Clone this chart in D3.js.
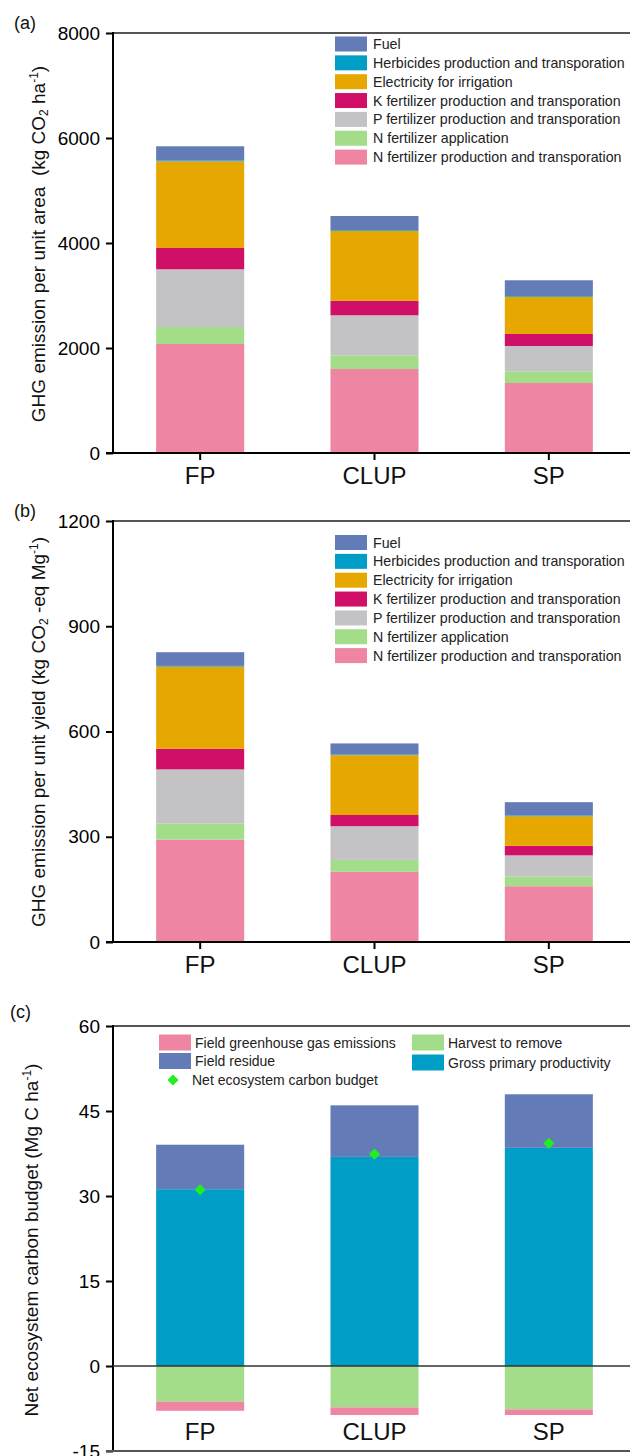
<!DOCTYPE html>
<html>
<head>
<meta charset="utf-8">
<script src="https://cdn.jsdelivr.net/npm/d3@7"></script>
<style>
  body { margin: 0; background: #fff; }
  svg { display: block; font-family: "Liberation Sans", Arial, sans-serif; }
  text { white-space: pre; }
</style>
</head>
<body>
<svg id="chart" width="630" height="1456"></svg>
<script>
// ---- data ----
const categories = ["FP", "CLUP", "SP"];

// stacking order bottom -> top
const emissionKeys = [
  "N fertilizer production and transporation",
  "N fertilizer application",
  "P fertilizer production and transporation",
  "K fertilizer production and transporation",
  "Electricity for irrigation",
  "Herbicides production and transporation",
  "Fuel"
];
const emissionColors = ["#ee85a3", "#a3dd8a", "#c3c3c5", "#cf0f68", "#e6a700", "#009ec6", "#637bb6"];

// (a) kg CO2 ha-1
const areaNProd = [2076, 1600, 1333];
const areaNApp  = [324, 261, 223];
const areaP     = [1099, 762, 482];
const areaK     = [406, 278, 229];
const areaElec  = [1650, 1332, 709];
const areaHerb  = [13, 15, 15];
const areaFuel  = [274, 266, 299];

// (b) kg CO2-eq Mg-1
const yieldNProd = [292, 200, 159];
const yieldNApp  = [46, 34, 28];
const yieldP     = [154, 96, 60];
const yieldK     = [59, 32, 27];
const yieldElec  = [234, 170.5, 84.5];
const yieldHerb  = [2, 2, 2];
const yieldFuel  = [39, 31.5, 38];

// (c) Mg C ha-1
const carbonKeys = ["Gross primary productivity", "Field residue", "Harvest to remove", "Field greenhouse gas emissions"];
const carbonColors = ["#009ec6", "#637bb6", "#a3dd8a", "#ee85a3"];
const gpp       = [31.2, 36.9, 38.5];
const residue   = [7.85, 9.1, 9.45];
const harvest   = [-6.3, -7.3, -7.65];
const fieldGhg  = [-1.6, -1.35, -1.0];
const necb      = [31.1, 37.4, 39.3];

const areaTicks = [0, 2000, 4000, 6000, 8000];
const yieldTicks = [0, 300, 600, 900, 1200];
const carbonTicks = [-15, 0, 15, 30, 45, 60];

// ---- helpers ----
const svg = d3.select("#chart");
const plotLeft = 113, plotRight = 630;
const tickFmt = d => String(d); // plain "8000", "-15"

const x = d3.scaleBand()
  .domain(categories)
  .range([plotLeft, 636])
  .paddingInner(0.495)
  .paddingOuter(0.2475);

function rows(series) {
  return categories.map((c, i) => {
    const r = { cat: c };
    series.forEach((s, k) => r[k] = s[i]);
    return r;
  });
}

function drawFrame(g, y, ticks, top, bottom) {
  // top border
  g.append("line")
    .attr("x1", plotLeft).attr("x2", plotRight)
    .attr("y1", top).attr("y2", top)
    .attr("stroke", "#555").attr("stroke-width", 2);

  const yAxis = g.append("g")
    .attr("transform", `translate(${plotLeft},0)`)
    .call(d3.axisLeft(y).tickValues(ticks).tickFormat(tickFmt).tickSize(7).tickPadding(6));
  yAxis.select(".domain").remove();
  yAxis.selectAll(".tick line").attr("stroke", "#000").attr("stroke-width", 2);
  yAxis.selectAll(".tick text").attr("font-size", 19).attr("fill", "#000")
    .attr("font-family", "Liberation Sans, Arial, sans-serif");

  g.append("line")
    .attr("x1", plotLeft).attr("x2", plotLeft)
    .attr("y1", top - 1).attr("y2", bottom + 1)
    .attr("stroke", "#000").attr("stroke-width", 2);
}

function yLabel(g, parts, cx, cy) {
  const t = g.append("text")
    .attr("transform", `translate(${cx},${cy}) rotate(-90)`)
    .attr("text-anchor", "middle")
    .attr("font-size", 19)
    .attr("fill", "#111");
  parts.forEach(p => {
    const ts = t.append("tspan").text(p.t);
    if (p.sub) ts.attr("font-size", 12).attr("baseline-shift", "-25%");
    if (p.sup) ts.attr("font-size", 12).attr("baseline-shift", "60%");
  });
}

function drawEmissionPanel(cfg) {
  const g = svg.append("g");
  const y = d3.scaleLinear().domain(cfg.domain).range([cfg.bottom, cfg.top]);
  const data = rows(cfg.series);
  const stack = d3.stack().keys(d3.range(emissionKeys.length))(data);

  g.selectAll("g.layer")
    .data(stack)
    .join("g")
    .attr("class", "layer")
    .attr("fill", (d, i) => emissionColors[i])
    .selectAll("rect")
    .data(d => d)
    .join("rect")
    .attr("x", d => x(d.data.cat))
    .attr("width", x.bandwidth())
    .attr("y", d => y(d[1]))
    .attr("height", d => y(d[0]) - y(d[1]));

  drawFrame(g, y, cfg.ticks, cfg.top, cfg.bottom);

  const xAxis = g.append("g")
    .attr("transform", `translate(0,${cfg.bottom})`)
    .call(d3.axisBottom(x).tickSize(7).tickPadding(7));
  xAxis.select(".domain").remove();
  xAxis.selectAll(".tick line").attr("stroke", "#000").attr("stroke-width", 2);
  xAxis.selectAll(".tick text").attr("font-size", 24).attr("fill", "#111")
    .attr("font-family", "Liberation Sans, Arial, sans-serif");
  g.append("line")
    .attr("x1", plotLeft - 7).attr("x2", plotRight)
    .attr("y1", cfg.bottom).attr("y2", cfg.bottom)
    .attr("stroke", "#000").attr("stroke-width", 2);

  // legend (top of stack first)
  const legend = g.append("g");
  const items = emissionKeys.map((k, i) => ({ k, c: emissionColors[i] })).reverse();
  const li = legend.selectAll("g").data(items).join("g")
    .attr("transform", (d, i) => `translate(335,${cfg.legendY + i * 18.85})`);
  li.append("rect").attr("x", 0).attr("y", -7.5).attr("width", 32).attr("height", 15)
    .attr("fill", d => d.c);
  li.append("text").attr("x", 38).attr("y", 5).attr("font-size", 14.2).attr("fill", "#222")
    .text(d => d.k);

  g.append("text").attr("x", 14).attr("y", cfg.top - 4).attr("font-size", 18).attr("fill", "#111")
    .text(cfg.tag);
  yLabel(g, cfg.label, 45, cfg.labelY);
}

drawEmissionPanel({
  tag: "(a)", top: 33, bottom: 453, domain: [0, 8000], ticks: areaTicks,
  series: [areaNProd, areaNApp, areaP, areaK, areaElec, areaHerb, areaFuel],
  legendY: 44, labelY: 244,
  label: [{ t: "GHG emission per unit area  (kg CO" }, { t: "2", sub: true }, { t: " ha" }, { t: "-1", sup: true }, { t: ")" }]
});

drawEmissionPanel({
  tag: "(b)", top: 521, bottom: 942, domain: [0, 1200], ticks: yieldTicks,
  series: [yieldNProd, yieldNApp, yieldP, yieldK, yieldElec, yieldHerb, yieldFuel],
  legendY: 542.5, labelY: 732,
  label: [{ t: "GHG emission per unit yield (kg CO" }, { t: "2", sub: true }, { t: " -eq Mg" }, { t: "-1", sup: true }, { t: ")" }]
});

// ---- panel (c) ----
(function () {
  const top = 1026, bottom = 1451;
  const g = svg.append("g");
  const y = d3.scaleLinear().domain([-15, 60]).range([bottom, top]);
  const data = rows([gpp, residue, harvest, fieldGhg]);
  const stack = d3.stack().keys(d3.range(carbonKeys.length)).offset(d3.stackOffsetDiverging)(data);

  g.selectAll("g.layer")
    .data(stack)
    .join("g")
    .attr("class", "layer")
    .attr("fill", (d, i) => carbonColors[i])
    .selectAll("rect")
    .data(d => d)
    .join("rect")
    .attr("x", d => x(d.data.cat))
    .attr("width", x.bandwidth())
    .attr("y", d => y(Math.max(d[0], d[1])))
    .attr("height", d => Math.abs(y(d[0]) - y(d[1])));

  drawFrame(g, y, carbonTicks, top, bottom);

  // zero line and bottom border
  g.append("line")
    .attr("x1", plotLeft).attr("x2", plotRight)
    .attr("y1", y(0)).attr("y2", y(0))
    .attr("stroke", "#333").attr("stroke-width", 1.5);
  g.append("line")
    .attr("x1", plotLeft - 7).attr("x2", plotRight)
    .attr("y1", bottom).attr("y2", bottom)
    .attr("stroke", "#555").attr("stroke-width", 2);

  const diamond = d3.symbol().type(d3.symbolSquare).size(62);
  g.selectAll("path.necb")
    .data(categories.map((c, i) => ({ c, v: necb[i] })))
    .join("path")
    .attr("class", "necb")
    .attr("d", diamond)
    .attr("transform", d => `translate(${x(d.c) + x.bandwidth() / 2},${y(d.v)}) rotate(45)`)
    .attr("fill", "#22ee22");

  g.selectAll("text.cat")
    .data(categories)
    .join("text")
    .attr("class", "cat")
    .attr("x", d => x(d) + x.bandwidth() / 2)
    .attr("y", 1440)
    .attr("text-anchor", "middle")
    .attr("font-size", 24)
    .attr("fill", "#111")
    .text(d => d);

  // legend
  const legendItems = [
    { k: carbonKeys[3], c: carbonColors[3], x: 159, y: 1042.5 },
    { k: carbonKeys[1], c: carbonColors[1], x: 159, y: 1061 },
    { k: carbonKeys[2], c: carbonColors[2], x: 412, y: 1042.5 },
    { k: carbonKeys[0], c: carbonColors[0], x: 412, y: 1062.5 }
  ];
  const li = g.selectAll("g.leg").data(legendItems).join("g")
    .attr("class", "leg")
    .attr("transform", d => `translate(${d.x},${d.y})`);
  li.append("rect").attr("x", 0).attr("y", -8).attr("width", 32).attr("height", 16)
    .attr("fill", d => d.c);
  li.append("text").attr("x", 36).attr("y", 5).attr("font-size", 14).attr("fill", "#222")
    .text(d => d.k);

  g.append("path")
    .attr("d", diamond)
    .attr("transform", "translate(173,1080) rotate(45)")
    .attr("fill", "#22ee22");
  g.append("text").attr("x", 192).attr("y", 1085).attr("font-size", 14).attr("fill", "#222")
    .text("Net ecosystem carbon budget");

  g.append("text").attr("x", 10).attr("y", 1018).attr("font-size", 18).attr("fill", "#111")
    .text("(c)");
  yLabel(g, [{ t: "Net ecosystem carbon budget (Mg C ha" }, { t: "-1", sup: true }, { t: ")" }], 38, 1240);
})();
</script>
</body>
</html>
